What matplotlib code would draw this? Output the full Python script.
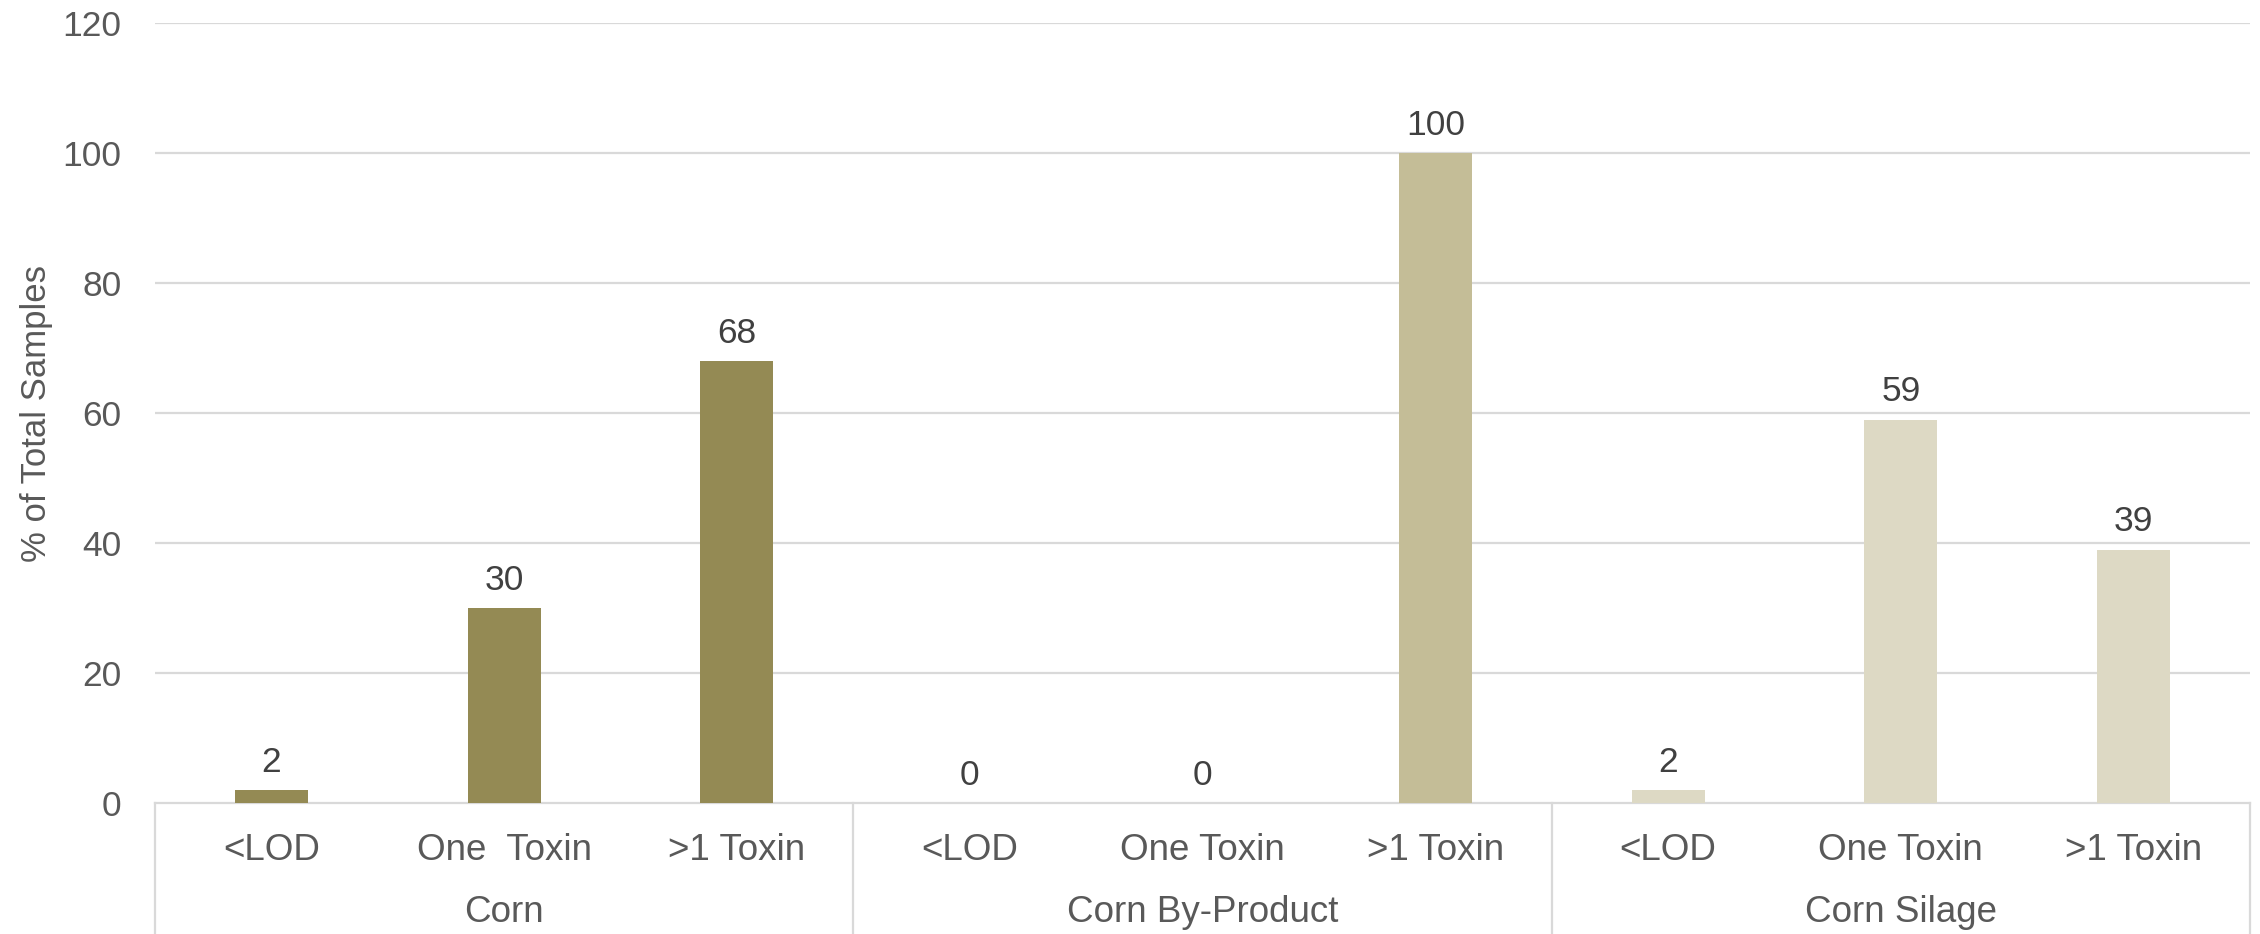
"""Grouped bar chart: share of samples by toxin count for three corn commodities."""

import matplotlib
matplotlib.use("Agg")
import matplotlib.pyplot as plt
from matplotlib.lines import Line2D
from matplotlib.transforms import blended_transform_factory

# Data
groups = ["Corn", "Corn By-Product", "Corn Silage"]
sub_labels = ["<LOD", "One  Toxin", ">1 Toxin",
              "<LOD", "One Toxin", ">1 Toxin",
              "<LOD", "One Toxin", ">1 Toxin"]
corn_values = [2, 30, 68]
byproduct_values = [0, 0, 100]
silage_values = [2, 59, 39]
group_colors = ["#948A54", "#C4BD97", "#DDD9C4"]

y_ticks = [0, 20, 40, 60, 80, 100, 120]

plt.rcParams["font.family"] = ["Liberation Sans", "DejaVu Sans"]

fig = plt.figure(figsize=(22.6, 9.34), dpi=100)
ax = fig.add_axes([155 / 2260, 1 - 803 / 934, (2250 - 155) / 2260, (803 - 23) / 934])

series = [corn_values, byproduct_values, silage_values]
bar_w = 0.314
pos = 0
for vals, color in zip(series, group_colors):
    xs = list(range(pos, pos + len(vals)))
    ax.bar(xs, vals, width=bar_w, color=color, zorder=3)
    for x, v in zip(xs, vals):
        ax.annotate(f"{v}", (x, v), xytext=(0, 13), textcoords="offset points",
                    ha="center", va="baseline", fontsize=25.5, color="#404040")
    pos += len(vals)

n = len(sub_labels)
ax.set_xlim(-0.5, n - 0.5)
ax.set_ylim(0, 120)
ax.set_yticks(y_ticks)
ax.set_xticks([])
ax.tick_params(axis="y", length=0, pad=24, labelsize=25.5, labelcolor="#595959")

grid_color = "#D9D9D9"
for y in y_ticks[1:]:
    ax.axhline(y, color=grid_color, lw=1.6, zorder=1)
for side in ["top", "right", "left"]:
    ax.spines[side].set_visible(False)
ax.spines["bottom"].set_color(grid_color)
ax.spines["bottom"].set_linewidth(1.6)

ax.set_ylabel("% of Total Samples", fontsize=25, color="#595959", labelpad=7)

# Two-level category axis drawn under the plot
trans = blended_transform_factory(ax.transData, fig.transFigure)
axis_y = 1 - 803 / 934
for i, lab in enumerate(sub_labels):
    ax.text(i, 1 - 850 / 934, lab, transform=trans, ha="center", va="center",
            fontsize=26.5, color="#595959")
for g, name in enumerate(groups):
    ax.text(3 * g + 1, 1 - 913 / 934, name, transform=trans, ha="center",
            va="center", fontsize=26.5, color="#595959")
for b in [-0.5, 2.5, 5.5, 8.5]:
    fig.add_artist(Line2D([b, b], [axis_y, 0], transform=trans,
                          color=grid_color, lw=1.6, clip_on=False))

fig.savefig("out.png", dpi=100)
